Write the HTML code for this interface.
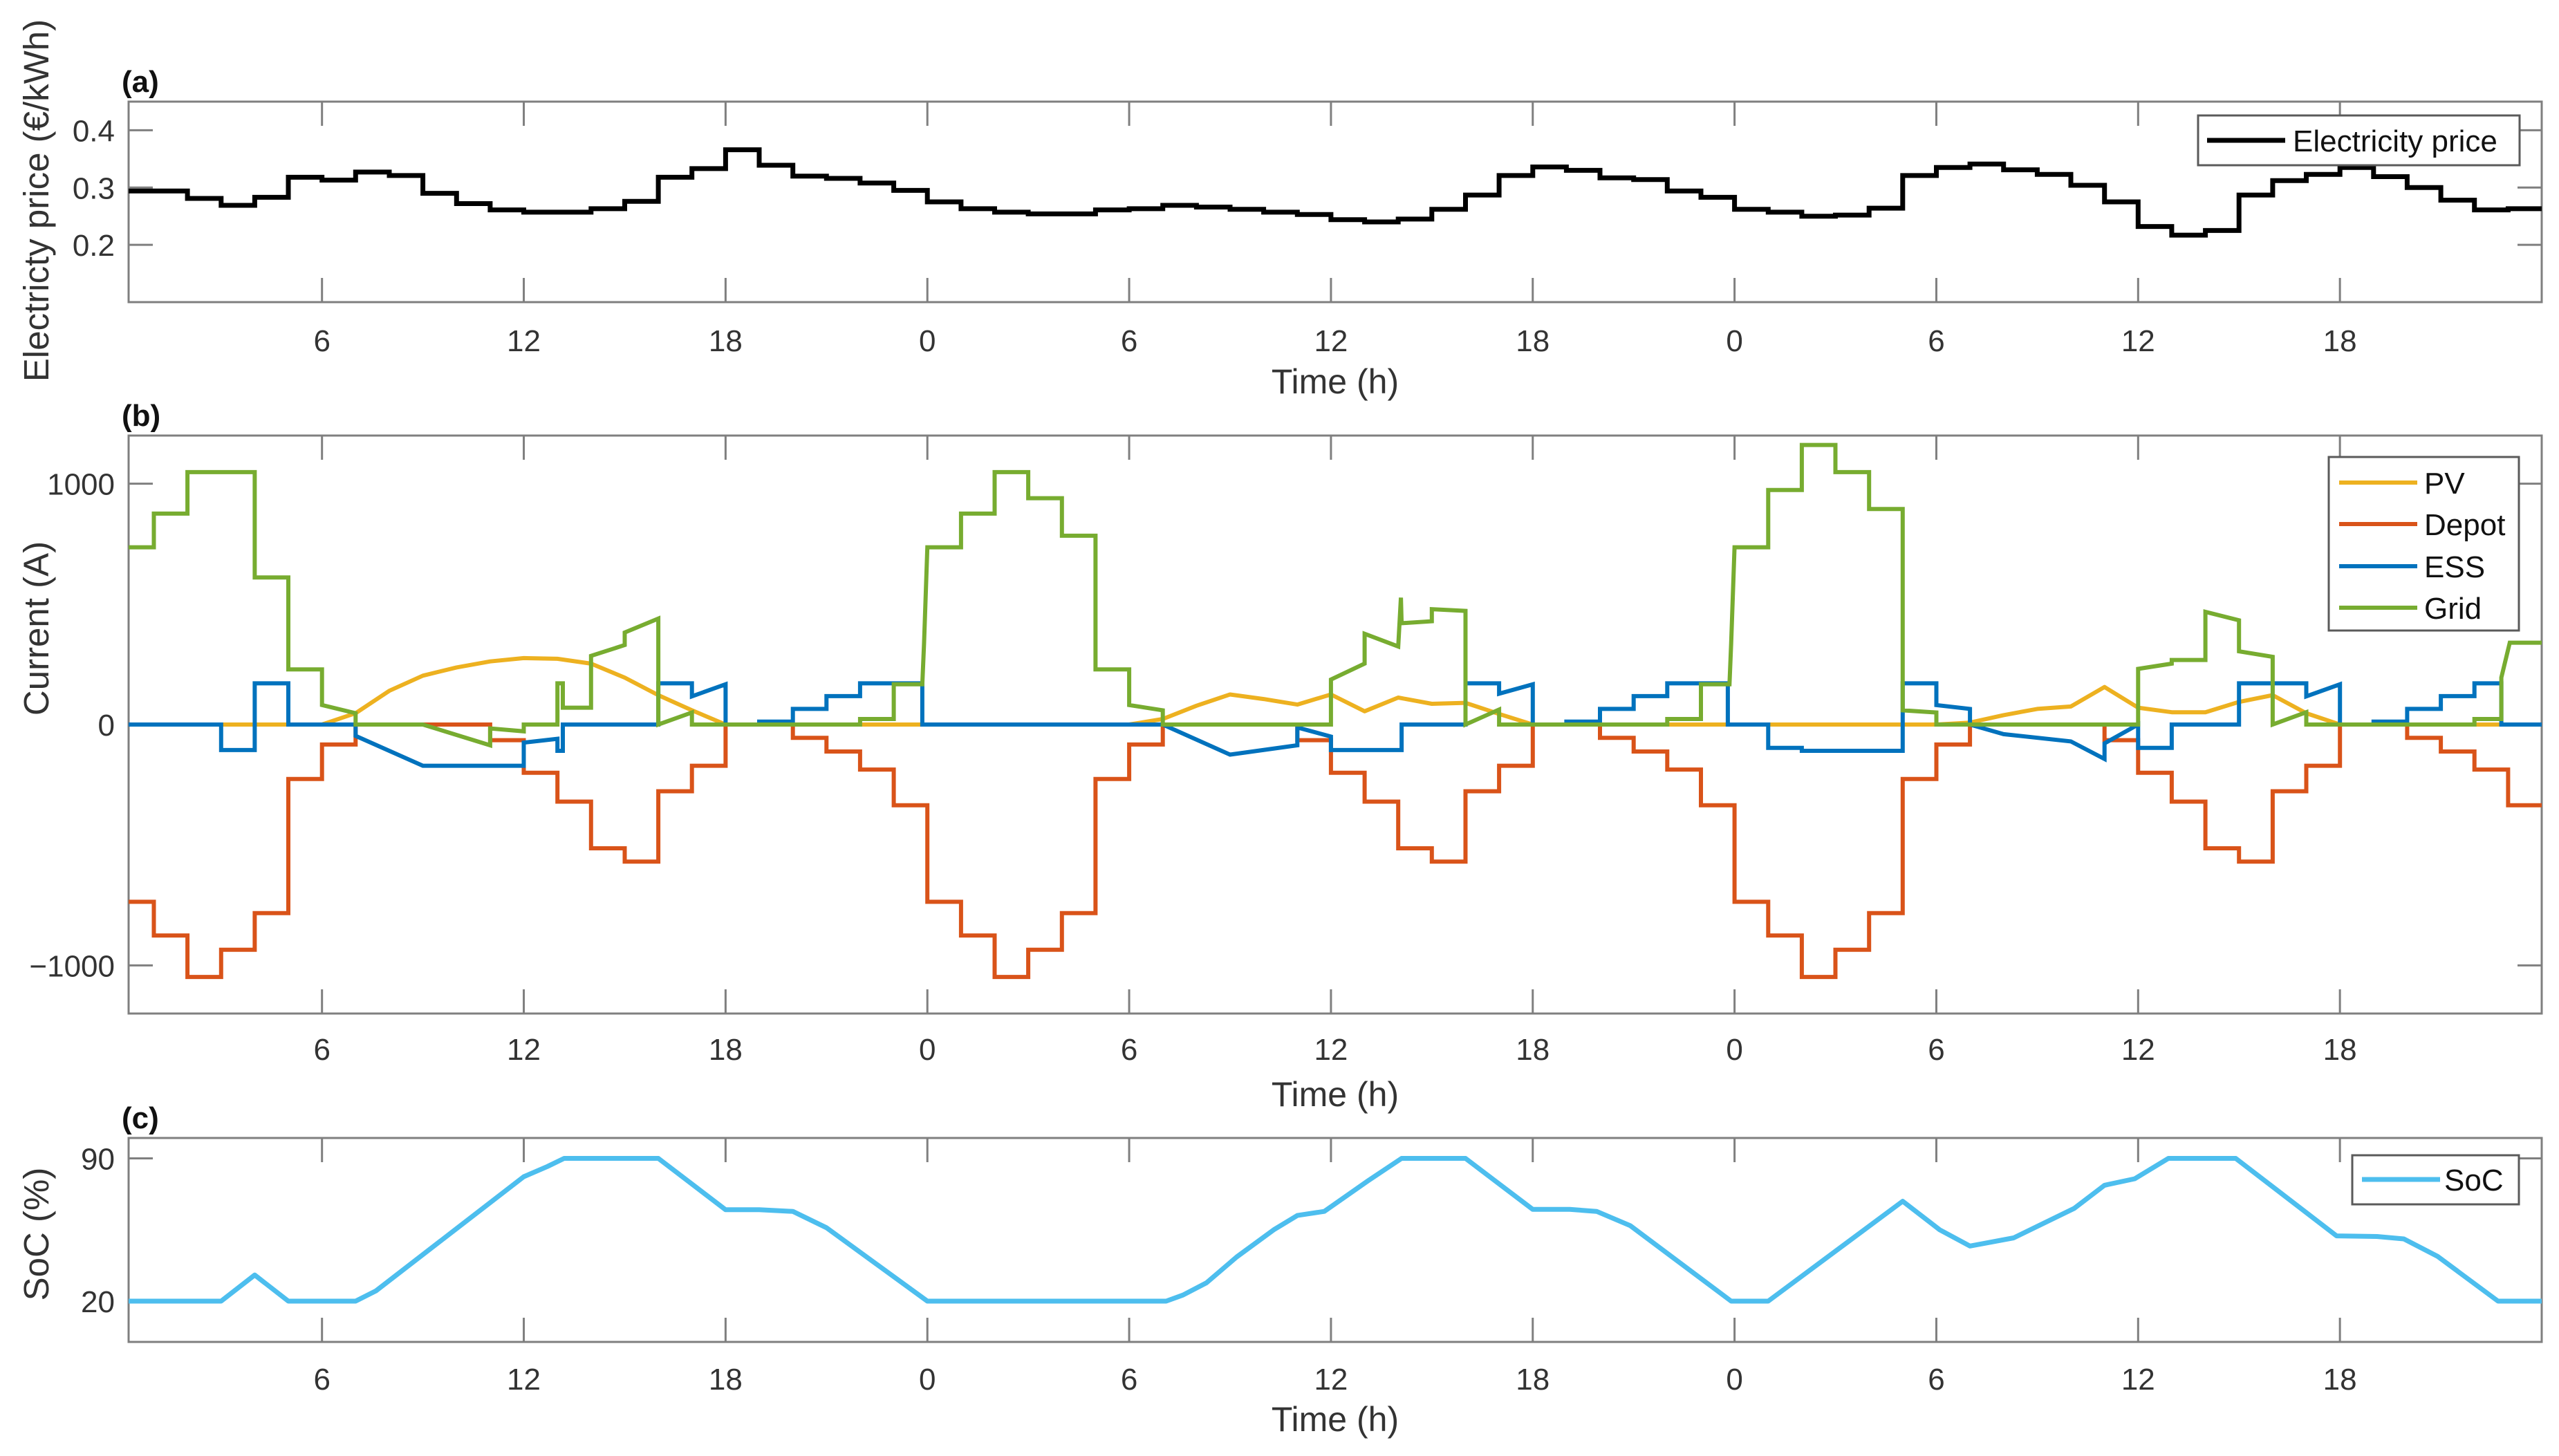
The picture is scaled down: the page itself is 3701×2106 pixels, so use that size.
<!DOCTYPE html>
<html><head><meta charset="utf-8"><style>
html,body{margin:0;padding:0;background:#fff;}
svg{display:block;font-family:"Liberation Sans",Arial,sans-serif;}
</style></head><body>
<svg id="fig" xmlns="http://www.w3.org/2000/svg" width="3701" height="2106" viewBox="0 0 3701 2106">
<rect x="0" y="0" width="3701" height="2106" fill="#fff"/>
</svg>
<script>
// ---------- data ----------
const xTickHours = [6,12,18,24,30,36,42,48,54,60,66];
const xTickLabels = ['6','12','18','0','6','12','18','0','6','12','18'];

const priceHours = [0,1,2,3,4,5,6,7,8,9,10,11,12,13,14,15,16,17,18,19,20,21,22,23,24,25,26,27,28,29,30,31,32,33,34,35,36,37,38,39,40,41,42,43,44,45,46,47,48,49,50,51,52,53,54,55,56,57,58,59,60,61,62,63,64,65,66,67,68,69,70,71];
const priceValues = [0.294,0.294,0.281,0.269,0.283,0.318,0.313,0.327,0.321,0.290,0.272,0.261,0.257,0.257,0.263,0.276,0.318,0.333,0.366,0.339,0.320,0.316,0.308,0.295,
0.275,0.263,0.257,0.254,0.254,0.261,0.263,0.269,0.266,0.262,0.257,0.253,0.244,0.240,0.245,0.262,0.287,0.321,0.336,0.330,0.317,0.314,0.294,0.283,
0.262,0.257,0.250,0.252,0.264,0.321,0.335,0.341,0.331,0.323,0.304,0.275,0.232,0.217,0.225,0.287,0.312,0.323,0.335,0.319,0.300,0.278,0.261,0.263];
const priceTicks = [0.2,0.3,0.4];
const priceTickLabels = ['0.2','0.3','0.4'];

const depotValues = [-736,-876,-1048,-935,-783,-226,-83,0,0,0,0,-65,-200,-320,-514,-569,-277,-171,0,0,-55,-112,-187,-335,
-736,-876,-1048,-935,-783,-226,-83,0,0,0,0,-65,-200,-320,-514,-569,-277,-171,0,0,-55,-112,-187,-335,
-736,-876,-1048,-935,-783,-226,-83,0,0,0,0,-65,-200,-320,-514,-569,-277,-171,0,0,-55,-112,-187,-335];

const pvT = [0.25,6,7,8,9,10,11,12,13,14,15,16,17,18,30,31,32,33,34,35,36,37,38,39,40,41,42,54,55,56,57,58,59,60,61,62,63,64,65,66,72];
const pvV = [0,0,47,140,203,237,262,276,273,253,195,122,59,0,0,23,78,125,106,83,125,55,112,86,90,44,0,0,8,39,65,75,156,70,51,51,94,122,47,0,0];

const essT = [0.25,3,3,4,4,5,5,7,7,9,12,12,13,13,13.16,13.16,16,16,17,17,18,18,19,19,20,20,21,21,22,22,23.85,23.85,
31,33,35,35,36,36,38.1,38.1,40,40,41,41,42,42,43,43,44,44,45,45,46,46,47.8,47.8,
49,49,50,50,53,53,54,54,55,55,56,58,59,59,60,60,61,61,63,63,65,65,66,66,67,67,68,68,69,69,70,70,70.8,70.8,72];
const essV = [0,0,-106,-106,171,171,0,0,-47,-171,-171,-75,-59,-109,-109,0,0,171,171,117,167,0,0,12,12,65,65,118,118,171,171,0,
0,-125,-86,-12,-50,-106,-106,0,0,171,171,128,167,0,0,12,12,65,65,118,118,171,171,0,
0,-97,-97,-109,-109,171,171,81,65,0,-40,-70,-143,-78,0,-97,-97,0,0,171,171,117,167,0,0,12,12,65,65,118,118,171,171,0,0];

const gridT = [0.25,1,1,2,2,4,4,5,5,6,6,7,7,9,11,11,12,12,13,13,13.16,13.16,14,14,15,15,16,16,17,17,22,22,23,23,23.85,23.9,24,
25,25,26,26,27,27,28,28,29,29,30,30,31,31,36,36,37,37,38,38.08,38.1,39,39,40,40,41,41,46,46,47,47,47.85,47.9,48,
49,49,50,50,51,51,52,52,53,53,54,54,60,60,61,61,62,62,63,63,64,64,65,65,70,70,70.8,70.8,71.05,72];
const gridV = [736,736,876,876,1048,1048,611,611,229,229,81,47,0,0,-86,-16,-28,0,0,171,171,70,70,285,330,382,440,0,50,0,0,23,23,167,167,335,736,
736,876,876,1048,1048,940,940,784,784,229,229,81,59,0,0,187,253,377,324,527,421,429,479,472,0,62,0,0,23,23,167,167,335,736,
736,974,974,1161,1161,1048,1048,895,895,59,50,0,0,231,253,268,268,468,433,304,281,0,51,0,0,23,23,195,340,340];
const currentTicks = [-1000,0,1000];
const currentTickLabels = ['\u22121000','0','1000'];

const socT = [0.25,3,4,5,7,7.6,12,12.7,13.2,16,18,19,20,21,24,25,31.1,31.6,32.3,33.2,34.3,35,35.8,37.1,38.1,40,42,43.1,43.9,44.9,47.9,49,53,54.1,55,56.3,58.1,59,59.9,60.9,62.9,65.9,67.1,67.9,68.9,70.7,72];
const socV = [20,20,32.8,20,20,25,81,86,90,90,64.8,64.8,64,56,20,20,20,23,29,41.7,55,62,64,79,90,90,65,65,64,57,20,20,69,55,47,51,65.5,76.8,80,90,90,52,51.7,50.5,42,20,20];
const socTicks = [20,90];
const socTickLabels = ['20','90'];

// ---------- layout ----------
const NS = 'http://www.w3.org/2000/svg';
const svg = document.getElementById('fig');
const X0 = 186, X1 = 3676, HMIN = 0.25, HMAX = 72;
function xs(h){ return X0 + (h - HMIN) * (X1 - X0) / (HMAX - HMIN); }
function mkY(top, bot, vmin, vmax){ return v => bot - (v - vmin) * (bot - top) / (vmax - vmin); }
function el(tag, attrs, parent){
  const e = document.createElementNS(NS, tag);
  for (const k in attrs) e.setAttribute(k, attrs[k]);
  (parent || svg).appendChild(e);
  return e;
}
const AX = '#7f7f7f', TXT = '#333333';

function axesFrame(name, top, bot, ys, ticks, tickLabels, tickBase, titleBase, panelLabel, ylabel, ylabelY){
  const g = el('g', {});
  
  
  el('rect', {x: X0, y: top, width: X1 - X0, height: bot - top, fill: 'none', stroke: AX, 'stroke-width': 3}, g);
  xTickHours.forEach((h, i) => {
    const x = xs(h);
    el('line', {x1: x, x2: x, y1: top, y2: top + 35, stroke: AX, 'stroke-width': 3}, g);
    el('line', {x1: x, x2: x, y1: bot, y2: bot - 35, stroke: AX, 'stroke-width': 3}, g);
    const t = el('text', {x: x, y: tickBase + 3, 'font-size': 44, fill: TXT, 'text-anchor': 'middle'}, g);
    t.textContent = xTickLabels[i];
    
    
  });
  ticks.forEach((v, i) => {
    const y = ys(v);
    el('line', {x1: X0, x2: X0 + 35, y1: y, y2: y, stroke: AX, 'stroke-width': 3}, g);
    el('line', {x1: X1, x2: X1 - 35, y1: y, y2: y, stroke: AX, 'stroke-width': 3}, g);
    const t = el('text', {x: 166, y: y + 16, 'font-size': 44, fill: TXT, 'text-anchor': 'end'}, g);
    t.textContent = tickLabels[i];
    
    
  });
  const xt = el('text', {x: (X0 + X1) / 2, y: titleBase, 'font-size': 50, fill: TXT, 'text-anchor': 'middle'}, g);
  xt.textContent = 'Time (h)';
  
  
  const pl = el('text', {x: 176, y: top - 14, 'font-size': 44, 'font-weight': 'bold', fill: '#111'}, g);
  pl.textContent = panelLabel;
  
  
  const yt = el('text', {x: 0, y: 0, 'font-size': 51, fill: TXT, 'text-anchor': 'middle', transform: 'translate(70,' + ylabelY + ') rotate(-90)'}, g);
  yt.textContent = ylabel;
  
  
  const cp = el('clipPath', {id: name + '-clip'}, g);
  el('rect', {x: X0, y: top, width: X1 - X0, height: bot - top}, cp);
  return g;
}
function polyPath(ts, vs, ys){
  let d = '';
  for (let i = 0; i < ts.length; i++) d += (i ? 'L' : 'M') + xs(ts[i]).toFixed(1) + ',' + ys(vs[i]).toFixed(1);
  return d;
}
function stepPath(hours, vals, ys){
  let d = '';
  for (let i = 0; i < hours.length; i++) {
    const a = Math.max(hours[i], HMIN), b = Math.min(hours[i] + 1, HMAX);
    const y = ys(vals[i]).toFixed(1);
    d += (i ? 'L' : 'M') + xs(a).toFixed(1) + ',' + y + 'L' + xs(b).toFixed(1) + ',' + y;
  }
  return d;
}
function legendBox(name, x, y, w, h, entries){
  const g = el('g', {});
  
  
  el('rect', {x: x, y: y, width: w, height: h, fill: '#fff', stroke: '#5a5a5a', 'stroke-width': 3}, g);
  entries.forEach(e => {
    const row = el('g', {}, g);
    
    
    el('line', {x1: e.lx1, x2: e.lx2, y1: e.y, y2: e.y, stroke: e.color, 'stroke-width': e.w}, row);
    const t = el('text', {x: e.tx, y: e.y + 16, 'font-size': 44, fill: '#111'}, row);
    t.textContent = e.label;
  });
}

// ---------- panel (a) ----------
const yA = mkY(147, 437, 0.1, 0.45);
axesFrame('price', 147, 437, yA, priceTicks, priceTickLabels, 505, 569, '(a)', 'Electricty price (\u20AC/kWh)', 290);
const pA = el('path', {d: stepPath(priceHours, priceValues, yA), fill: 'none', stroke: '#000', 'stroke-width': 7, 'clip-path': 'url(#price-clip)'});


legendBox('price-legend', 3179, 167, 465, 72, [{label: 'Electricity price', color: '#000', w: 7, lx1: 3192, lx2: 3305, tx: 3316, y: 203}]);

// ---------- panel (b) ----------
const yB = mkY(630, 1466, -1200, 1200);
axesFrame('current', 630, 1466, yB, currentTicks, currentTickLabels, 1530, 1600, '(b)', 'Current (A)', 909);
const pv = el('path', {d: polyPath(pvT, pvV, yB), fill: 'none', stroke: '#EDB120', 'stroke-width': 6, 'stroke-linejoin': 'round', 'clip-path': 'url(#current-clip)'});


const dep = el('path', {d: stepPath(priceHours, depotValues, yB), fill: 'none', stroke: '#D95319', 'stroke-width': 6, 'clip-path': 'url(#current-clip)'});


const ess = el('path', {d: polyPath(essT, essV, yB), fill: 'none', stroke: '#0072BD', 'stroke-width': 6, 'clip-path': 'url(#current-clip)'});


const grid = el('path', {d: polyPath(gridT, gridV, yB), fill: 'none', stroke: '#77AC30', 'stroke-width': 6, 'clip-path': 'url(#current-clip)'});


legendBox('current-legend', 3368, 661, 275, 251, [
  {label: 'PV', color: '#EDB120', w: 6, lx1: 3383, lx2: 3496, tx: 3506, y: 698},
  {label: 'Depot', color: '#D95319', w: 6, lx1: 3383, lx2: 3496, tx: 3506, y: 758},
  {label: 'ESS', color: '#0072BD', w: 6, lx1: 3383, lx2: 3496, tx: 3506, y: 819},
  {label: 'Grid', color: '#77AC30', w: 6, lx1: 3383, lx2: 3496, tx: 3506, y: 879}
]);

// ---------- panel (c) ----------
const yC = mkY(1646, 1941, 0, 100);
axesFrame('soc', 1646, 1941, yC, socTicks, socTickLabels, 2007, 2070, '(c)', 'SoC (%)', 1785);
const soc = el('path', {d: polyPath(socT, socV, yC), fill: 'none', stroke: '#4DBEEE', 'stroke-width': 7, 'stroke-linejoin': 'round', 'clip-path': 'url(#soc-clip)'});


legendBox('soc-legend', 3402, 1671, 241, 71, [{label: 'SoC', color: '#4DBEEE', w: 7, lx1: 3416, lx2: 3529, tx: 3535, y: 1706}]);
</script>
</body></html>
